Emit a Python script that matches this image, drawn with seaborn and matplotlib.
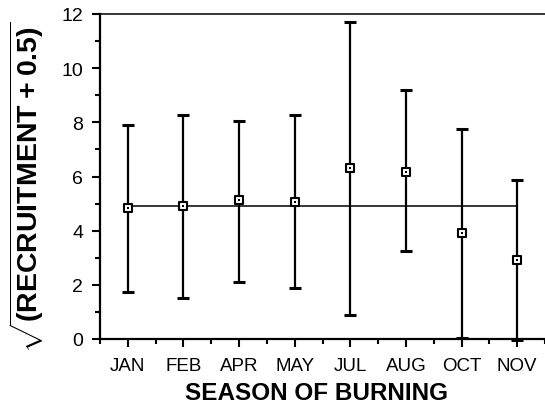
import numpy as np
import matplotlib
matplotlib.use("Agg")
import matplotlib.pyplot as plt
from matplotlib.ticker import MultipleLocator, FixedLocator
import seaborn as sns

# Recruitment by burning season (square-root transformed), mean with interval
months = ["JAN", "FEB", "APR", "MAY", "JUL", "AUG", "OCT", "NOV"]
means = [4.84, 4.92, 5.13, 5.07, 6.31, 6.17, 3.91, 2.93]
upper = [7.91, 8.28, 8.06, 8.28, 11.69, 9.21, 7.75, 5.86]
lower = [1.72, 1.50, 2.09, 1.87, 0.90, 3.24, 0.03, -0.03]
grand_mean = 4.90

sns.set_theme(style="ticks")
plt.rcParams["font.family"] = ["Liberation Sans", "DejaVu Sans"]
plt.rcParams["mathtext.fontset"] = "custom"
plt.rcParams["mathtext.rm"] = "Liberation Sans"
plt.rcParams["mathtext.bf"] = "Liberation Sans:bold"

fig = plt.figure(figsize=(5.45, 4.10), dpi=100)
ax = fig.add_axes([100 / 545, 70 / 410, 445 / 545, 325 / 410])

pos = np.arange(len(months))
m = np.array(means)
yerr = [m - np.array(lower), np.array(upper) - m]

# overall mean line across the seasons
ax.hlines(grand_mean, pos[0], pos[-1], color="black", lw=1.1, zorder=1)

# intervals
ax.errorbar(pos, m, yerr=yerr, fmt="none", ecolor="black", elinewidth=1.6,
            capsize=4, capthick=2.2, zorder=2, clip_on=False)

# mean markers: open squares with a dot in the middle
sns.scatterplot(x=months, y=means, marker="s", s=26, facecolor="white",
                edgecolor="black", linewidth=1.5, zorder=4, ax=ax, clip_on=False)
sns.scatterplot(x=months, y=means, marker="s", s=1.5, color="black",
                linewidth=0, zorder=5, ax=ax, clip_on=False)

ax.set_xlim(-0.5, len(months) - 0.5)
ax.set_ylim(0, 12)

ax.xaxis.set_major_locator(FixedLocator(pos))
ax.xaxis.set_minor_locator(FixedLocator(np.arange(-0.5, len(months), 1.0)))
ax.set_xticks(pos)
ax.set_xticklabels(months, fontsize=13.5)
ax.yaxis.set_major_locator(MultipleLocator(2))
ax.yaxis.set_minor_locator(MultipleLocator(1))
ax.set_yticks(np.arange(0, 13, 2))
ax.set_yticklabels([str(v) for v in range(0, 13, 2)], fontsize=14)

ax.tick_params(axis="both", which="major", direction="out", length=6,
               width=1.5, color="black", labelcolor="black")
ax.tick_params(axis="both", which="minor", direction="out", length=3.5,
               width=1.5, color="black")
ax.tick_params(axis="x", which="major", pad=7)
ax.tick_params(axis="y", which="major", pad=6)

for side in ("left", "bottom"):
    ax.spines[side].set_linewidth(1.6)
    ax.spines[side].set_color("black")
ax.spines["top"].set_linewidth(1.1)
ax.spines["top"].set_color("black")
ax.spines["right"].set_visible(False)

ax.set_xlabel("SEASON OF BURNING", fontsize=17.5, fontweight="bold",
              color="black")
ax.xaxis.set_label_coords(0.486, -0.13)
ax.set_ylabel(r"$\sqrt{\mathbf{(RECRUITMENT\:+\:0.5)}}$", fontsize=20.5,
              color="black")
ax.yaxis.set_label_coords(-0.122, 0.47)

ax.set_facecolor("white")
fig.patch.set_facecolor("white")
fig.savefig("out.png", dpi=100, facecolor="white")
